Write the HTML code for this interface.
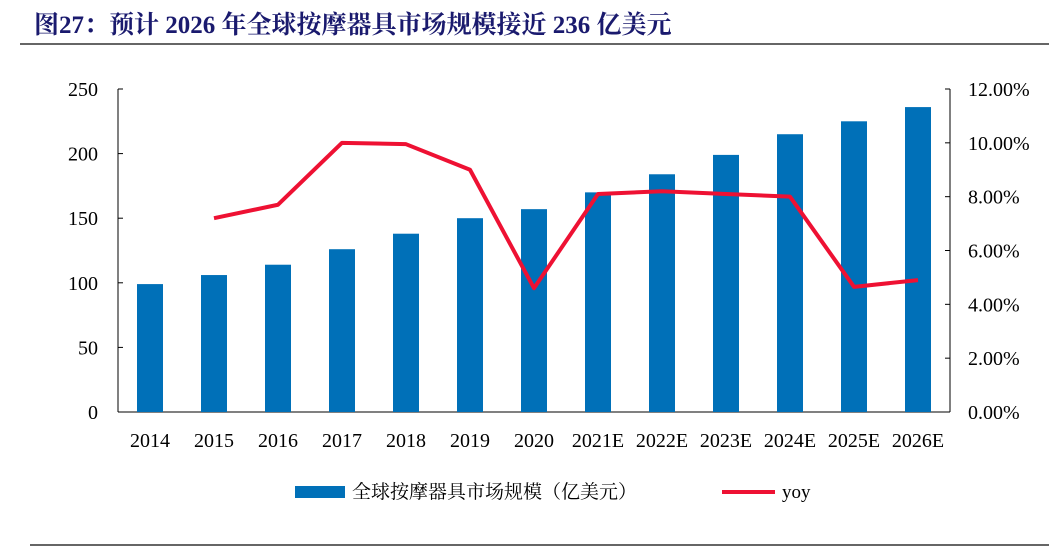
<!DOCTYPE html>
<html><head><meta charset="utf-8"><style>
body{margin:0;background:#fff;width:1049px;height:549px;overflow:hidden}
svg text{font-family:"Liberation Serif","Noto Serif CJK SC",serif}
</style></head><body>
<svg width="1049" height="549">
<text x="34" y="33" font-size="25" font-weight="bold" fill="#1a1a6e">图27：预计 2026 年全球按摩器具市场规模接近 236 亿美元</text>
<line x1="20" y1="44" x2="1049" y2="44" stroke="#333" stroke-width="1.5"/>
<line x1="30" y1="545" x2="1049" y2="545" stroke="#333" stroke-width="1.5"/>
<g id="plot"></g>
<g>
<rect x="295" y="486" width="50" height="12" fill="#0070b8"/>
<text x="352" y="498" font-size="19" fill="#000">全球按摩器具市场规模（亿美元）</text>
<line x1="722" y1="492" x2="775" y2="492" stroke="#ee1133" stroke-width="4"/>
<text x="782" y="498" font-size="19" fill="#000">yoy</text>
</g>
</svg>
<script>
const categories=["2014","2015","2016","2017","2018","2019","2020","2021E","2022E","2023E","2024E","2025E","2026E"];
const marketSize=[99,106,114,126,138,150,157,170,184,199,215,225,236];
const yoy=[null,7.2,7.7,10.0,9.95,9.0,4.6,8.1,8.2,8.1,8.0,4.65,4.9];
const leftTicks=[0,50,100,150,200,250];
const rightTicks=[0,2,4,6,8,10,12];
const NS="http://www.w3.org/2000/svg";
const g=document.getElementById("plot");
const L=118,R=950,Y0=412,Y1=89;
const yL=v=>Y0-(v/250)*(Y0-Y1);
const yR=v=>Y0-(v/12)*(Y0-Y1);
const step=(R-L)/categories.length;
const xC=i=>L+step*(i+0.5);
function mk(t,a){const e=document.createElementNS(NS,t);for(const k in a)e.setAttribute(k,a[k]);g.appendChild(e);return e;}
let e;
e=mk("line",{x1:L,y1:Y1,x2:L,y2:Y0,stroke:"#000","stroke-width":1});


e=mk("line",{x1:R,y1:Y1,x2:R,y2:Y0,stroke:"#000","stroke-width":1});


e=mk("line",{x1:L,y1:Y0,x2:R,y2:Y0,stroke:"#000","stroke-width":1});


leftTicks.forEach(v=>{
  const y=yL(v);
  const t=mk("line",{x1:L,y1:y,x2:L+5,y2:y,stroke:"#000"});
  
  
  const tx=mk("text",{x:L-20,y:y+7,"font-size":20,"text-anchor":"end"});
  tx.textContent=v;
  
  
});
rightTicks.forEach(v=>{
  const y=yR(v);
  const t=mk("line",{x1:R-5,y1:y,x2:R,y2:y,stroke:"#000"});
  
  
  const tx=mk("text",{x:R+18,y:y+7,"font-size":20});
  tx.textContent=v.toFixed(2)+"%";
  
  
});
categories.forEach((c,i)=>{
  const b=mk("rect",{x:xC(i)-13,y:yL(marketSize[i]),width:26,height:Y0-yL(marketSize[i]),fill:"#0070b8"});
  
  
  const tx=mk("text",{x:xC(i),y:447,"font-size":20,"text-anchor":"middle"});
  tx.textContent=c;
  
  
});
const pts=[];
yoy.forEach((v,i)=>{if(v!==null)pts.push(xC(i)+","+yR(v));});
const pl=mk("polyline",{points:pts.join(" "),fill:"none",stroke:"#ee1133","stroke-width":4,"stroke-linejoin":"round"});


</script>
</body></html>
